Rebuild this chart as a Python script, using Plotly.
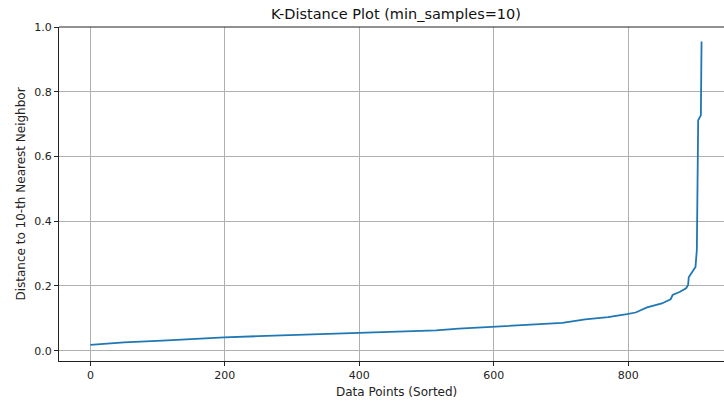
import plotly.graph_objects as go

# Sorted point index and k-distance
point_index = [0, 20, 50, 107, 150, 199, 250, 300, 350, 399, 450, 514, 548, 599,
               650, 702, 736, 770, 798, 811, 828, 850, 863, 866, 877, 886, 889,
               890, 897, 900, 902, 903, 904, 908, 909]
k_distance = [0.018, 0.022, 0.026, 0.031, 0.036, 0.041, 0.045, 0.048, 0.051, 0.055,
              0.058, 0.063, 0.068, 0.074, 0.079, 0.086, 0.097, 0.104, 0.113, 0.118,
              0.134, 0.146, 0.159, 0.172, 0.182, 0.193, 0.203, 0.227, 0.249, 0.259,
              0.311, 0.700, 0.712, 0.727, 0.955]

x_ticks = [0, 200, 400, 600, 800]
y_ticks = [0.0, 0.2, 0.4, 0.6, 0.8, 1.0]

tick_font = dict(family="DejaVu Sans", size=11, color="#222222")
label_font = dict(family="DejaVu Sans", size=12, color="#222222")

W, H = 724, 401
L, T, B = 59, 27, 40
center_px = 396  # matplotlib axes centre (axes extend beyond the crop)
cx = (center_px - L) / (W - L)

fig = go.Figure(go.Scatter(
    x=point_index, y=k_distance, mode="lines",
    line=dict(color="#1f77b4", width=1.8), showlegend=False,
))

fig.update_layout(
    width=W, height=H,
    margin=dict(l=L, r=0, t=T, b=B, autoexpand=False),
    paper_bgcolor="white", plot_bgcolor="white",
    font=tick_font,
    title=dict(text="K-Distance Plot (min_samples=10)", x=cx, xanchor="center",
               xref="paper", y=1 - 14 / H, yanchor="middle",
               font=dict(family="DejaVu Sans", size=14.5, color="#111111")),
)
fig.update_xaxes(
    range=[-46.7, 942.4], tickvals=x_ticks, ticktext=[str(v) for v in x_ticks],
    showgrid=True, gridcolor="#b0b0b0", gridwidth=0.8, automargin=False,
    showline=True, linecolor="#222222", linewidth=1, mirror=False,
    ticks="outside", ticklen=4, tickcolor="#222222", zeroline=False,
    tickfont=tick_font,
)
fig.update_yaxes(
    range=[-0.0318, 1.0], tickvals=y_ticks, ticktext=[f"{v:.1f}" for v in y_ticks],
    showgrid=True, gridcolor="#b0b0b0", gridwidth=0.8, automargin=False,
    showline=True, linecolor="#222222", linewidth=1,
    ticks="outside", ticklen=4, tickcolor="#222222", zeroline=False,
    tickfont=tick_font,
    title=dict(text="Distance to 10-th Nearest Neighbor", standoff=6, font=label_font),
)
fig.add_annotation(text="Data Points (Sorted)", xref="paper", yref="paper",
                   x=cx, y=-(392 - (H - B)) / (H - T - B), xanchor="center",
                   yanchor="middle", showarrow=False, font=label_font)
# top spine
fig.add_shape(type="line", xref="paper", yref="paper", x0=0, x1=1, y0=1, y1=1,
              line=dict(color="#222222", width=1))

fig.write_html("out.html", config={"displayModeBar": False},
               post_script="document.body.style.margin='0';document.body.style.overflow='hidden';")
